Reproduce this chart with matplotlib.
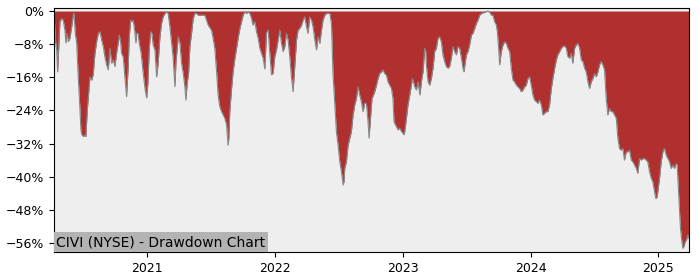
import matplotlib
matplotlib.use("Agg")
import matplotlib.pyplot as plt
from matplotlib.ticker import FuncFormatter

# drawdown (%), time as decimal year
years = [
    2020.273, 2020.276, 2020.287, 2020.295, 2020.302, 2020.310, 2020.320, 2020.334, 2020.346, 2020.359,
    2020.367, 2020.377, 2020.385, 2020.398, 2020.412, 2020.424, 2020.430, 2020.440, 2020.451, 2020.463,
    2020.477, 2020.484, 2020.492, 2020.502, 2020.516, 2020.523, 2020.534, 2020.545, 2020.555, 2020.568,
    2020.580, 2020.594, 2020.607, 2020.620, 2020.633, 2020.646, 2020.659, 2020.672, 2020.685, 2020.698,
    2020.711, 2020.724, 2020.737, 2020.750, 2020.763, 2020.776, 2020.784, 2020.795, 2020.802, 2020.815,
    2020.828, 2020.841, 2020.854, 2020.862, 2020.873, 2020.883, 2020.893, 2020.904, 2020.914, 2020.920,
    2020.930, 2020.940, 2020.955, 2020.971, 2020.987, 2020.998, 2021.008, 2021.018, 2021.029, 2021.039,
    2021.049, 2021.063, 2021.076, 2021.088, 2021.102, 2021.115, 2021.127, 2021.141, 2021.154, 2021.166,
    2021.180, 2021.193, 2021.205, 2021.219, 2021.227, 2021.245, 2021.258, 2021.271, 2021.284, 2021.297,
    2021.305, 2021.315, 2021.326, 2021.336, 2021.349, 2021.362, 2021.375, 2021.388, 2021.401,
    2021.414, 2021.453, 2021.479, 2021.505, 2021.518, 2021.531, 2021.545, 2021.557, 2021.570, 2021.584,
    2021.596, 2021.609, 2021.623, 2021.630, 2021.635, 2021.641, 2021.648, 2021.662, 2021.674, 2021.688,
    2021.701, 2021.713, 2021.727, 2021.740, 2021.752, 2021.766, 2021.779, 2021.791, 2021.805, 2021.818,
    2021.830, 2021.844, 2021.857, 2021.870, 2021.883, 2021.896, 2021.909, 2021.922,
    2021.935, 2021.948, 2021.961, 2021.974, 2021.987, 2022.000, 2022.013, 2022.026, 2022.039, 2022.052,
    2022.065, 2022.078, 2022.091, 2022.104, 2022.117, 2022.130, 2022.143, 2022.156, 2022.170, 2022.182,
    2022.195, 2022.209, 2022.221, 2022.234, 2022.248, 2022.260, 2022.273, 2022.287, 2022.299, 2022.313,
    2022.326, 2022.338, 2022.352, 2022.365, 2022.377, 2022.391, 2022.404, 2022.416, 2022.430, 2022.443,
    2022.455, 2022.469, 2022.482, 2022.495, 2022.508, 2022.521, 2022.534, 2022.541, 2022.547, 2022.560,
    2022.573, 2022.586, 2022.599, 2022.612, 2022.625, 2022.638, 2022.651, 2022.664, 2022.677, 2022.690,
    2022.703, 2022.716, 2022.729, 2022.737, 2022.750,
    2022.760, 2022.771, 2022.781, 2022.795, 2022.807, 2022.820, 2022.834, 2022.846, 2022.859, 2022.873,
    2022.885, 2022.898, 2022.912, 2022.924, 2022.932, 2022.943, 2022.951, 2022.963, 2022.977, 2022.990,
    2023.002, 2023.010, 2023.016, 2023.029, 2023.041, 2023.055, 2023.068, 2023.076, 2023.084, 2023.094,
    2023.107, 2023.120, 2023.127, 2023.135, 2023.146, 2023.159, 2023.172, 2023.180, 2023.185, 2023.198,
    2023.211, 2023.224, 2023.237, 2023.250, 2023.263, 2023.276, 2023.289, 2023.302, 2023.315, 2023.328,
    2023.341, 2023.354, 2023.367, 2023.380, 2023.393, 2023.406, 2023.420, 2023.432, 2023.445, 2023.459,
    2023.471, 2023.479, 2023.490, 2023.498, 2023.510, 2023.523,
    2023.537, 2023.549, 2023.563, 2023.576, 2023.588, 2023.602, 2023.615, 2023.641, 2023.666, 2023.680,
    2023.693, 2023.705, 2023.719, 2023.732, 2023.740, 2023.750, 2023.758, 2023.771, 2023.784, 2023.797,
    2023.810, 2023.823, 2023.836, 2023.849, 2023.862, 2023.875, 2023.888, 2023.901, 2023.914, 2023.927,
    2023.940, 2023.953, 2023.966, 2023.979, 2023.992, 2024.005, 2024.018, 2024.031, 2024.045, 2024.057,
    2024.070, 2024.084, 2024.096, 2024.109, 2024.123, 2024.135, 2024.148, 2024.162, 2024.174, 2024.188,
    2024.201, 2024.213, 2024.227, 2024.240, 2024.252, 2024.266, 2024.279, 2024.291, 2024.305, 2024.318,
    2024.330, 2024.344, 2024.357, 2024.370,
    2024.383, 2024.396, 2024.409, 2024.422, 2024.435, 2024.448, 2024.461, 2024.474, 2024.487, 2024.500,
    2024.513, 2024.526, 2024.539, 2024.552, 2024.565, 2024.578, 2024.591, 2024.604, 2024.617, 2024.630,
    2024.643, 2024.656, 2024.670, 2024.682, 2024.695, 2024.709, 2024.721, 2024.734, 2024.748, 2024.760,
    2024.773, 2024.787, 2024.799, 2024.813, 2024.826, 2024.838, 2024.852, 2024.865, 2024.877, 2024.891,
    2024.904, 2024.916, 2024.930, 2024.943, 2024.955, 2024.969, 2024.977, 2024.987, 2024.995, 2025.008,
    2025.021, 2025.034, 2025.047, 2025.060, 2025.073, 2025.086, 2025.099, 2025.112, 2025.125, 2025.138,
    2025.146, 2025.154, 2025.164, 2025.172, 2025.180, 2025.190, 2025.198, 2025.209, 2025.219, 2025.229,
    2025.237,
]
drawdown = [
    -0.5, -2.2, -7.7, -9.4, -14.7, -9.4, -2.6, -1.8, -2.2, -4.6,
    -7.7, -5.4, -7.4, -6.6, -3.8, -1.0, -0.6, -5.4, -7.7, -15.9,
    -23.9, -28.7, -29.9, -30.3, -30.0, -30.3, -23.9, -19.8, -15.9, -16.7,
    -15.4, -10.2, -7.4, -5.4, -5.0, -7.0, -8.6, -11.1, -13.0, -14.2,
    -9.0, -12.6, -11.8, -13.4, -10.2, -7.7, -5.8, -7.7, -10.2, -11.1,
    -15.9, -20.7, -13.4, -6.2, -2.2, -2.6, -2.2, -4.6, -7.7, -5.4,
    -5.4, -7.7, -10.2, -15.0, -19.1, -21.0, -17.4, -9.4, -5.0, -5.4,
    -8.2, -9.4, -15.9, -12.6, -6.2, -2.9, -1.4, -0.6, -0.2, -0.6,
    -3.8, -7.7, -11.1, -18.3, -12.6, -6.2, -7.7, -12.6, -15.0, -18.3,
    -21.5, -17.4, -15.0, -8.6, -5.4, -1.8, -0.6, -0.6, -1.0,
    -1.0, -1.0, -3.4, -4.6, -6.6, -9.0, -14.7, -20.3, -23.1, -24.3,
    -25.1, -25.9, -27.5, -30.7, -32.4, -30.7, -24.3, -18.7, -14.7, -11.4,
    -9.0, -6.6, -4.2, -2.6, -1.0, -0.2, -0.6, -0.2, -0.6, -1.8,
    -3.4, -2.6, -5.0, -6.6, -9.0, -10.2, -11.4, -14.0,
    -5.2, -4.6, -10.2, -15.4, -15.0, -11.0, -9.4, -7.0, -4.6, -7.8,
    -9.8, -8.6, -5.4, -7.0, -11.0, -15.9, -19.5, -13.4, -7.0, -4.6,
    -4.2, -3.4, -2.2, -1.4, -3.8, -5.4, -1.4, -2.2, -3.8, -7.0,
    -9.4, -6.2, -7.8, -4.6, -2.2, -1.0, -0.6, -0.6, -0.6, -3.0,
    -15.0, -22.5, -29.3, -32.4, -36.4, -38.8, -42.0, -41.2, -38.0, -36.4,
    -32.4, -30.7, -29.1, -25.1, -22.7, -21.1, -18.3, -20.3, -21.9, -24.3,
    -22.3, -22.3, -26.7, -30.7, -25.1,
    -21.1, -20.3, -19.5, -17.9, -16.3, -15.1, -14.7, -14.2, -15.1, -15.5,
    -17.1, -17.9, -18.7, -21.1, -26.7, -27.5, -27.9, -28.7, -28.3, -29.1,
    -29.5, -29.9, -29.1, -25.9, -22.7, -20.3, -17.9, -16.3, -17.1, -18.3,
    -19.1, -17.1, -18.7, -20.3, -17.1, -14.7, -9.0, -9.8, -13.0, -17.1,
    -17.9, -16.3, -13.8, -9.8, -9.0, -6.6, -6.2, -7.4, -10.6, -12.2,
    -13.4, -13.8, -13.4, -11.4, -8.6, -9.8, -10.6, -8.6, -9.0, -11.4,
    -13.8, -14.7, -12.2, -10.6, -9.8, -8.2,
    -5.8, -5.4, -4.2, -3.0, -2.2, -1.0, -0.6, -0.3, 0.0, -0.3,
    -1.0, -1.0, -2.6, -3.4, -5.0, -9.0, -13.0, -9.8, -8.2, -7.4,
    -7.8, -9.0, -9.8, -13.8, -16.7, -17.1, -17.9, -18.3, -18.7, -19.5,
    -19.1, -18.3, -17.9, -16.3, -15.9, -17.9, -20.3, -21.5, -21.9, -22.3,
    -21.5, -22.7, -25.1, -24.7, -24.3, -24.3, -22.7, -18.7, -16.3, -13.8,
    -11.8, -10.6, -9.8, -9.0, -8.6, -8.4, -9.0, -11.0, -11.4, -10.2,
    -12.6, -9.0, -8.2, -7.8,
    -9.0, -11.8, -12.2, -13.8, -14.7, -17.1, -18.7, -17.1, -16.3, -15.1,
    -15.9, -14.7, -13.0, -12.2, -13.0, -14.2, -21.1, -25.1, -23.5, -24.3,
    -24.3, -25.1, -25.9, -30.7, -33.2, -33.6, -33.2, -36.0, -34.0, -34.0,
    -33.6, -36.0, -36.4, -37.2, -38.0, -39.2, -35.6, -36.0, -35.7, -35.6,
    -36.0, -36.4, -38.8, -40.4, -41.2, -43.6, -45.2, -45.1, -43.6, -40.4,
    -36.4, -34.0, -33.2, -34.8, -35.6, -36.4, -38.0, -37.2, -38.0, -36.8,
    -37.2, -42.0, -48.5, -52.5, -54.9, -57.3, -56.9, -55.7, -55.3, -54.1,
    -54.9,
]
year_ticks = [2021, 2022, 2023, 2024, 2025]
pct_ticks = [0, -8, -16, -24, -32, -40, -48, -56]
title = "CIVI (NYSE) - Drawdown Chart"

fig, ax = plt.subplots(figsize=(7, 2.8), dpi=100)
fig.subplots_adjust(left=0.077, right=0.984, top=0.971, bottom=0.1)

ax.set_facecolor("#eeeeee")
ax.fill_between(years, drawdown, 0, color="#b03030", lw=0)
ax.plot(years, drawdown, color="#888888", lw=0.8)

ax.set_xlim(years[0], years[-1])
ax.set_ylim(-58.2, 0.7)
ax.set_xticks(year_ticks)
ax.set_xticklabels([str(y) for y in year_ticks])
ax.set_yticks(pct_ticks)
ax.yaxis.set_major_formatter(FuncFormatter(lambda v, _: f"{v:.0f}%".replace("-", "\u2212")))
ax.tick_params(labelsize=9)

ax.text(0.004, 0.012, title, transform=ax.transAxes, fontsize=10, va="bottom", ha="left",
        bbox=dict(facecolor="#b3b3b3", edgecolor="none", pad=2))

fig.savefig("out.png", dpi=100)
